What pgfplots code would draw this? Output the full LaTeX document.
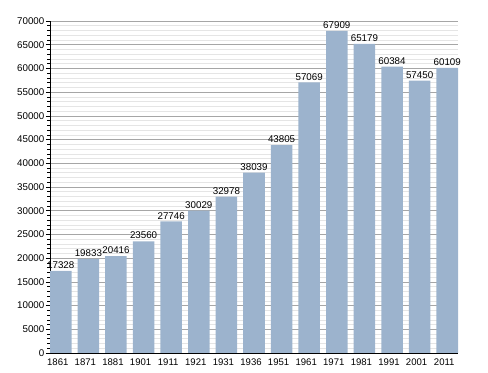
\documentclass[border=0pt]{standalone}
\usepackage{pgfplots}
\pgfplotsset{compat=1.18}
\usepackage{fontspec}
\setmainfont{Liberation Sans}
\definecolor{barblue}{HTML}{9CB3CD}
\begin{document}
\begin{tikzpicture}
\useasboundingbox (-50bp,-20bp) rectangle (438bp,353bp);
\begin{axis}[
  at={(0,0)}, anchor=south west,
  scale only axis,
  width=408bp, height=332bp,
  xmin=-0.39, xmax=14.39,
  ymin=0, ymax=70000,
  ytick={0,5000,...,70000},
  minor y tick num=4,
  xtick={0,...,14},
  xticklabels={1861,1871,1881,1901,1911,1921,1931,1936,1951,1961,1971,1981,1991,2001,2011},
  axis x line*=bottom, axis y line*=left,
  axis line style={black, line width=0.8pt},
  ymajorgrids, yminorgrids,
  major grid style={color=black!35, line width=0.6pt},
  minor grid style={color=black!10, line width=0.6pt},
  tick align=outside,
  major y tick style={black, line width=0.6pt},
  minor y tick style={black, line width=0.6pt},
  major tick length=4bp, minor tick length=2.5bp,
  major x tick style={draw=none},
  /pgf/number format/assume math mode=true,
  /pgf/number format/set thousands separator={},
  scaled y ticks=false,
  yticklabel style={font=\fontsize{9.8}{11}\selectfont, inner sep=1.5bp},
  xticklabel style={font=\fontsize{9.6}{11}\selectfont, xshift=-3bp, inner sep=1.5bp},
  ybar, bar width=0.78, bar shift=0pt,
  nodes near coords,
  nodes near coords style={font=\fontsize{9.8}{11}\selectfont, inner sep=2bp, black},
]
\addplot[fill=barblue, draw=none] coordinates {
(0,17328) (1,19833) (2,20416) (3,23560) (4,27746) (5,30029) (6,32978) (7,38039)
(8,43805) (9,57069) (10,67909) (11,65179) (12,60384) (13,57450) (14,60109)
};
\end{axis}
\end{tikzpicture}
\end{document}
